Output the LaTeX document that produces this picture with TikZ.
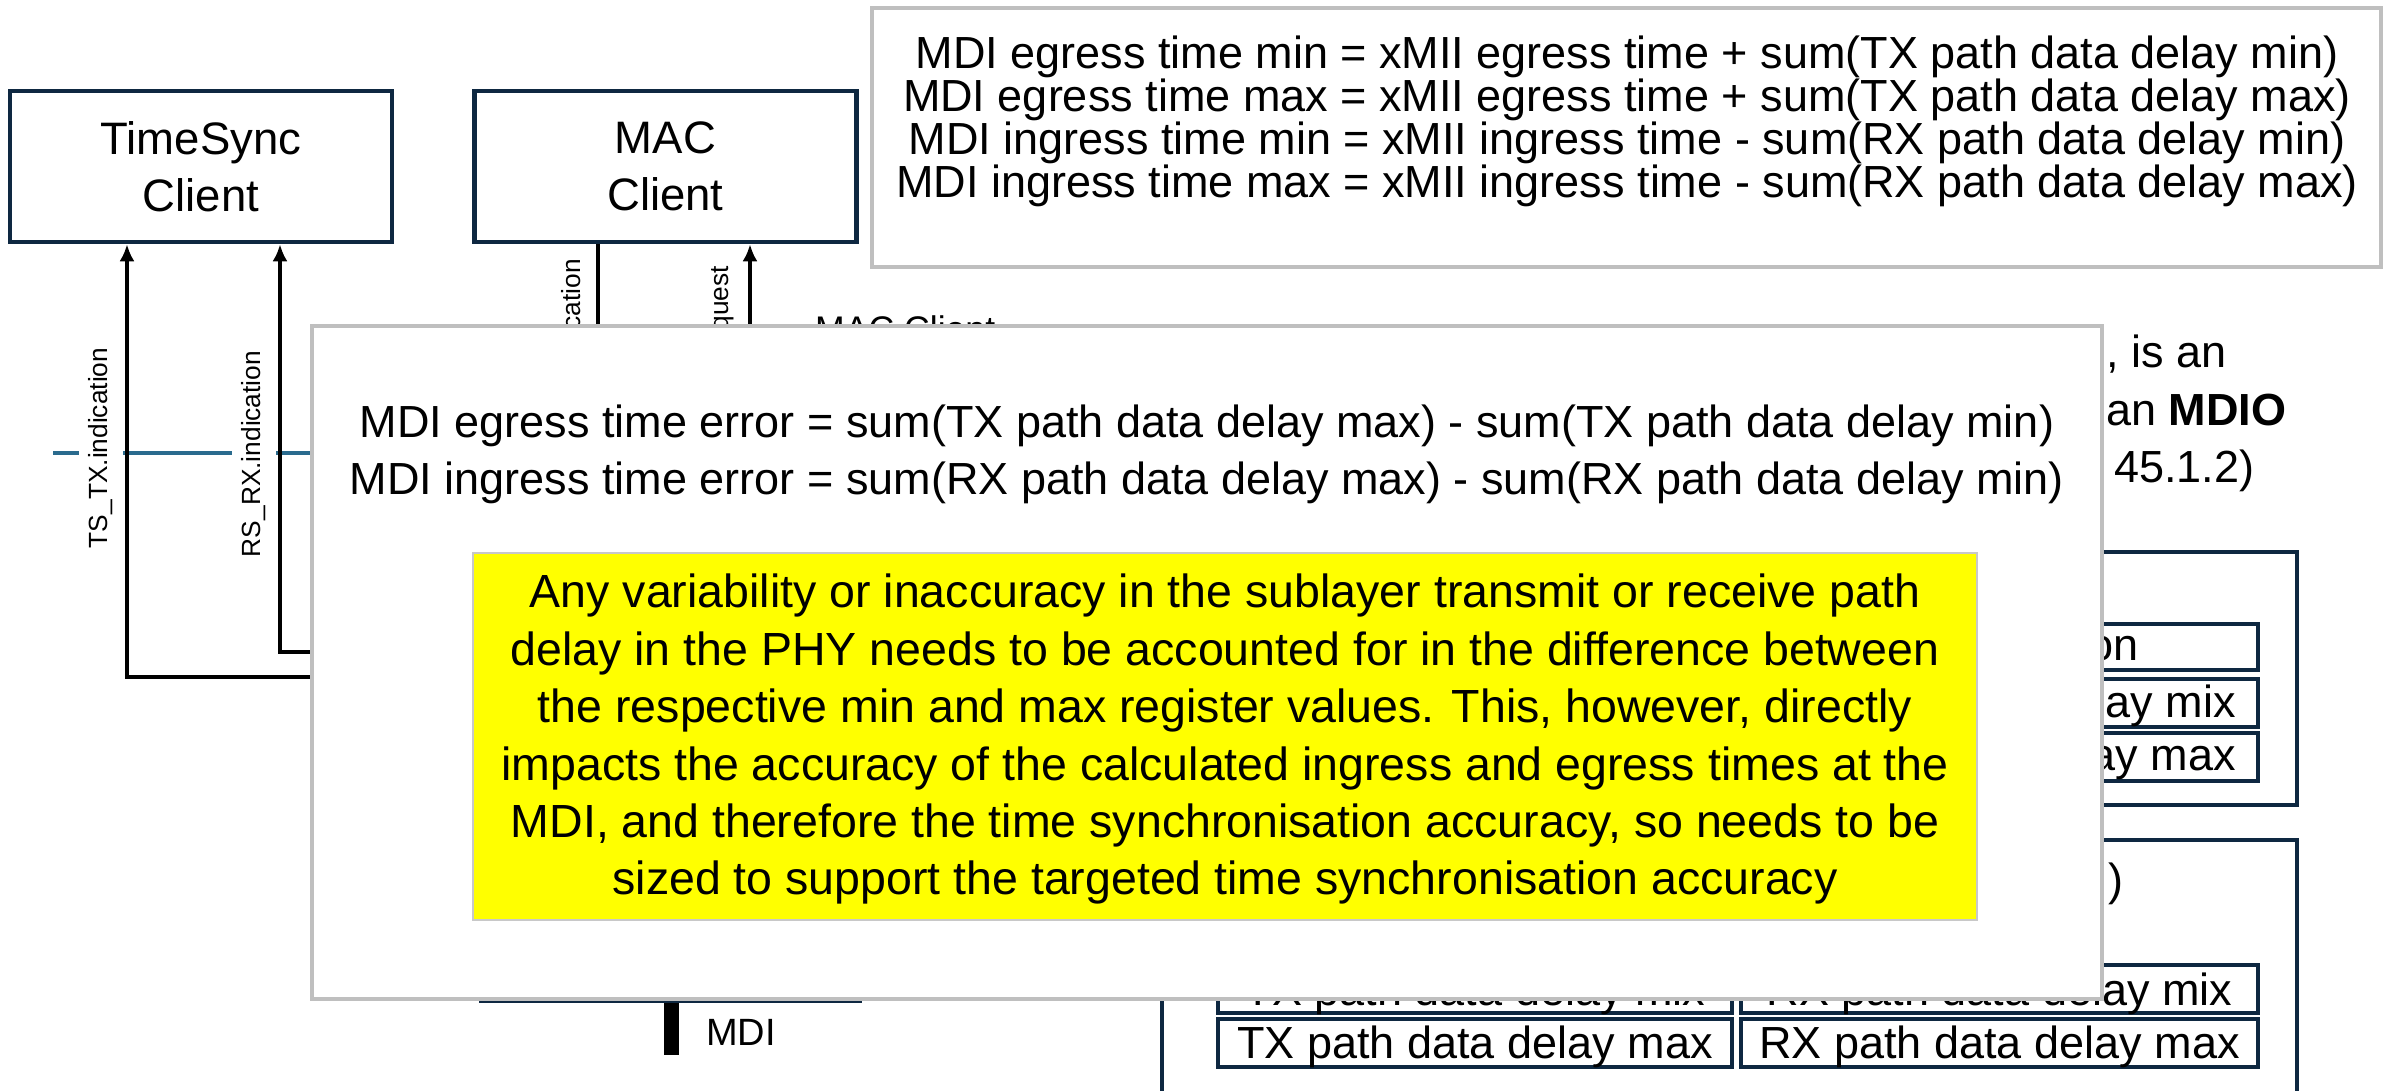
\documentclass[tikz,border=0pt]{standalone}
\usepackage{fontspec}
\setmainfont{Liberation Sans}
\newfontfamily\calloutfont{Liberation Sans}
\usetikzlibrary{arrows.meta}

\definecolor{navy}{HTML}{0E2841}
\definecolor{calloutgray}{HTML}{BFBFBF}
\definecolor{wireblue}{HTML}{2A6B8E}
\definecolor{hilite}{HTML}{FFFF00}
\definecolor{hiliteedge}{HTML}{C8C8C8}

\def\cfs{45}
\def\nfs{46.5}

\tikzset{
  clientbox/.style={draw=navy, line width=4.5pt, fill=white, inner sep=0pt,
    minimum width=382pt, minimum height=151pt, align=center,
    font=\fontsize{45.5}{57}\selectfont},
  conn/.style={line width=4pt, draw=black},
  arr/.style={conn, -{Latex[length=17pt,width=15pt]}},
  vlabel/.style={rotate=90, fill=white, inner xsep=0pt, inner ysep=10pt,
    font=\fontsize{26.3}{30}\selectfont},
  vfrag/.style={rotate=90, inner sep=0pt, anchor=east,
    font=\fontsize{26.3}{30}\selectfont},
  plain/.style={inner sep=0pt, anchor=base west},
  callout/.style={draw=calloutgray, line width=4.5pt, fill=white, inner sep=0pt},
  cline/.style={inner sep=0pt, anchor=base,
    font=\calloutfont\fontsize{\cfs}{\cfs}\selectfont},
  nline/.style={inner sep=0pt, anchor=base,
    font=\calloutfont\fontsize{\nfs}{\nfs}\selectfont},
  regbox/.style={draw=navy, line width=4.5pt, inner sep=0pt},
  wire/.style={draw=wireblue, line width=4pt},
}

\begin{document}
\begin{tikzpicture}[x=1pt,y=-1pt]
\clip (0,0) rectangle (2399,1090);
\fill[white] (0,0) rectangle (2399,1090);

% ---------- clients ----------
\node[clientbox] (ts)  at (201,166.5)   {TimeSync\\Client};
\node[clientbox] (mac) at (665.5,166.5) {MAC\\Client};

% ---------- service interface line ----------
\coordinate (wireL) at (53,453);
\coordinate (wireR) at (340,453);
\draw[wire] (wireL) -- (wireR);

\node[vlabel] (txlab) at (101,448) {TS\_TX.indication};
\node[vlabel] (rxlab) at (254,454) {RS\_RX.indication};

% ---------- timestamp indications to the TimeSync client ----------
\coordinate (txIn)   at (340,677);
\coordinate (txTurn) at (127,677);
\draw[arr] (txIn) -- (txTurn) -- (txTurn |- ts.south);

\coordinate (rxIn)   at (340,652);
\coordinate (rxTurn) at (280,652);
\draw[arr] (rxIn) -- (rxTurn) -- (rxTurn |- ts.south);

% ---------- MAC client primitives ----------
\coordinate (macInd) at (598,420);
\coordinate (macReq) at (750,420);
\draw[conn] (macInd |- mac.south) -- (macInd);
\draw[arr] (macReq) -- (macReq |- mac.south);
\node[vfrag] (indlab) at (571,259) {cation};
\node[vfrag] (reqlab) at (723,266) {quest};
\node[plain, font=\fontsize{35.6}{40}\selectfont] (macsub) at (815,341) {MAC Client};

% ---------- PHY and MDI ----------
\node[draw=navy, line width=2.5pt, inner sep=0pt,
      minimum width=381pt, minimum height=300pt] (phy) at (670.5,852) {};
\coordinate (mdiEnd) at (671,1055);
\draw[line width=15pt] (phy.south -| mdiEnd) -- (mdiEnd);
\node[plain, font=\fontsize{38}{40}\selectfont] (mdi) at (706,1045) {MDI};

% ---------- register panels ----------
\node[regbox, minimum width=1135pt, minimum height=253pt] (reg1) at (1729.5,678.5) {};
\node[regbox, minimum width=517pt, minimum height=46pt] (r1a) at (1999.5,647) {};
\node[regbox, minimum width=517pt, minimum height=48pt] (r1b) at (1999.5,703) {};
\node[regbox, minimum width=517pt, minimum height=48pt] (r1c) at (1999.5,757) {};
\node[cline, anchor=base east] (r1at) at (2139,660) {on};
\node[cline, anchor=base east] (r1bt) at (2236,717) {ay mix};
\node[cline, anchor=base east] (r1ct) at (2236,770) {ay max};

\node[regbox, minimum width=1135pt, minimum height=300pt] (reg2) at (1729.5,990) {};
\node[regbox, minimum width=514pt, minimum height=48pt] (r2a) at (1475,989) {};
\node[regbox, minimum width=517pt, minimum height=48pt] (r2b) at (1999.5,989) {};
\node[regbox, minimum width=514pt, minimum height=48pt] (r2c) at (1475,1043) {};
\node[regbox, minimum width=517pt, minimum height=48pt] (r2d) at (1999.5,1043) {};
\node[cline] (r2at) at (1475,1005)   {TX path data delay mix};
\node[cline] (r2bt) at (1999.5,1005) {RX path data delay mix};
\node[cline] (r2ct) at (1475,1058)   {TX path data delay max};
\node[cline] (r2dt) at (1999.5,1058) {RX path data delay max};
\node[cline, anchor=base west] (reg2t) at (2108,895) {)};

\node[cline, anchor=base west] (mdio1) at (2106,367) {, is an};
\node[cline, anchor=base west] (mdio2) at (2106,425) {an \textbf{MDIO}};
\node[cline, anchor=base west] (mdio3) at (2114,482) {45.1.2)};

% ---------- MDI time equations ----------
\node[callout, minimum width=1509pt, minimum height=259pt] (eqbox) at (1626.5,137.5) {};
\node[cline] (eq1) at (1627,68)  {MDI egress time min = xMII egress time + sum(TX path data delay min)};
\node[cline] (eq2) at (1627,111) {MDI egress time max = xMII egress time + sum(TX path data delay max)};
\node[cline] (eq3) at (1627,154) {MDI ingress time min = xMII ingress time - sum(RX path data delay min)};
\node[cline] (eq4) at (1627,197) {MDI ingress time max = xMII ingress time - sum(RX path data delay max)};

% ---------- time error equations and note ----------
\node[callout, minimum width=1790pt, minimum height=673pt] (errbox) at (1207,662.5) {};
\node[cline] (err1) at (1207,437) {MDI egress time error = sum(TX path data delay max) - sum(TX path data delay min)};
\node[cline] (err2) at (1207,494) {MDI ingress time error = sum(RX path data delay max) - sum(RX path data delay min)};

\node[draw=hiliteedge, line width=2.5pt, fill=hilite, inner sep=0pt,
      minimum width=1504pt, minimum height=367pt] (note) at (1225,736.5) {};
\node[nline] (n1) at (1225,607) {Any variability or inaccuracy in the sublayer transmit or receive path};
\node[nline] (n2) at (1225,665) {delay in the PHY needs to be accounted for in the difference between};
\node[nline] (n3) at (1225,722) {the respective min and max register values. This, however, directly};
\node[nline] (n4) at (1225,780) {impacts the accuracy of the calculated ingress and egress times at the};
\node[nline] (n5) at (1225,837) {MDI, and therefore the time synchronisation accuracy, so needs to be};
\node[nline] (n6) at (1225,894) {sized to support the targeted time synchronisation accuracy};
\end{tikzpicture}
\end{document}
